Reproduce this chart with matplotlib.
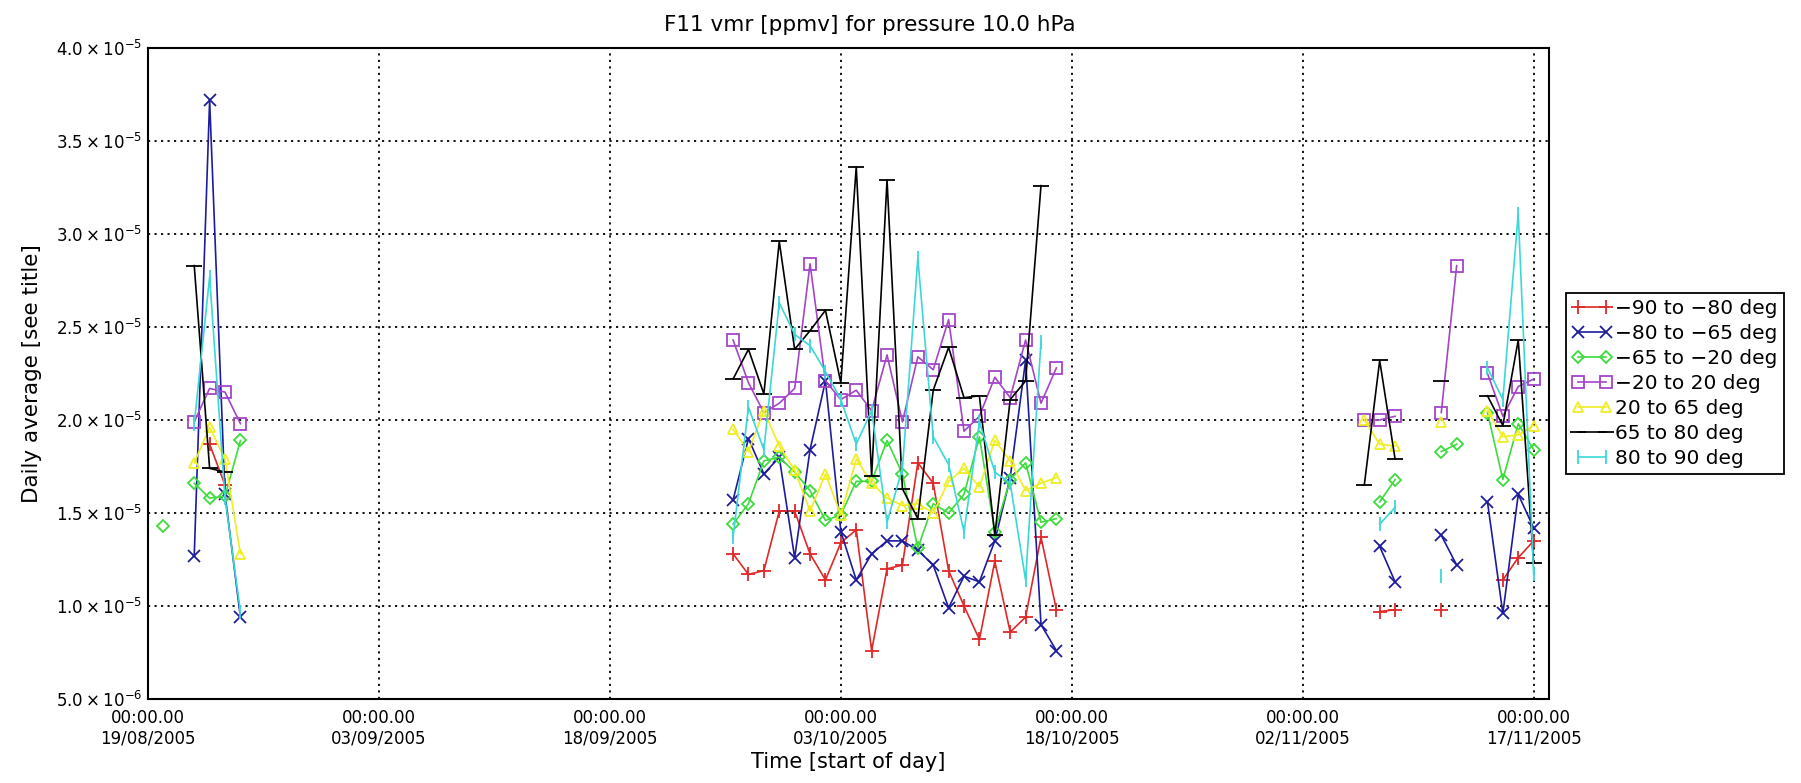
import numpy as np
import matplotlib
matplotlib.use("Agg")
import matplotlib.pyplot as plt
from datetime import datetime, timedelta

# ----------- DATA (daily averages, units of 1e-5) ----------- #
N = None
base = datetime(2005, 8, 19)
days = [1, 2, 3, 4, 5, 6, 7,
        38, 39, 40, 41, 42, 43, 44, 45, 46, 47, 48, 49, 50, 51, 52, 53, 54, 55, 56, 57, 58, 59, 60,
        79, 80, 81, 82, 84, 85, 86, 87, 88, 89, 90]

red = [N, N, N, 1.87, 1.65, N, N,
       1.28, 1.17, 1.19, 1.51, 1.51, 1.28, 1.14, 1.34, 1.41, 0.76, 1.20, 1.22, 1.77, 1.66, 1.19,
       1.00, 0.82, 1.24, 0.86, 0.94, 1.37, 0.98, N,
       N, 0.97, 0.98, N, 0.98, N, N, N, 1.14, 1.26, 1.35]
blue = [N, N, 1.27, 3.72, 1.60, 0.94, N,
        1.57, 1.90, 1.71, 1.80, 1.26, 1.84, 2.21, 1.40, 1.14, 1.28, 1.35, 1.35, 1.30, 1.22, 0.99,
        1.16, 1.13, 1.35, 1.69, 2.32, 0.90, 0.76, N,
        N, 1.32, 1.13, N, 1.38, 1.22, N, 1.56, 0.96, 1.60, 1.42]
green = [1.43, N, 1.66, 1.58, 1.59, 1.89, N,
         1.44, 1.55, 1.78, 1.80, 1.72, 1.62, 1.46, 1.49, 1.67, 1.67, 1.89, 1.71, 1.31, 1.55, 1.50,
         1.60, 1.91, 1.40, 1.68, 1.77, 1.45, 1.47, N,
         N, 1.56, 1.68, N, 1.83, 1.87, N, 2.04, 1.68, 1.98, 1.84]
purple = [N, N, 1.99, 2.17, 2.15, 1.98, N,
          2.43, 2.20, 2.04, 2.09, 2.17, 2.84, 2.21, 2.11, 2.16, 2.05, 2.35, 1.99, 2.34, 2.27, 2.54,
          1.94, 2.02, 2.23, 2.12, 2.43, 2.09, 2.28, N,
          2.00, 2.00, 2.02, N, 2.04, 2.83, N, 2.25, 2.02, 2.18, 2.22]
yellow = [N, N, 1.77, 1.96, 1.79, 1.28, N,
          1.95, 1.83, 2.05, 1.86, 1.73, 1.51, 1.71, 1.49, 1.79, 1.66, 1.58, 1.54, 1.55, 1.50, 1.67,
          1.74, 1.64, 1.89, 1.78, 1.62, 1.66, 1.69, N,
          2.00, 1.87, 1.86, N, 1.99, N, N, 2.05, 1.91, 1.92, 1.97]
black = [N, N, 2.83, 1.74, 1.72, N, N,
         2.22, 2.38, 2.14, 2.96, 2.38, 2.48, 2.59, 2.20, 3.36, 1.70, 3.29, 1.63, 1.47, 2.16, 2.39,
         2.12, 2.13, 1.38, 2.11, 2.21, 3.26, N, N,
         1.65, 2.32, 1.79, N, 2.21, N, N, 2.13, 1.97, 2.43, 1.23]
cyan = [N, N, 1.98, 2.77, 1.58, 0.97, N,
        1.37, 2.07, 1.84, 2.63, 2.46, 2.40, 2.26, 2.11, 1.87, 2.05, 1.45, 1.74, 2.87, 1.91, 1.76,
        1.40, 1.99, 1.72, 1.66, 1.14, 2.42, N, N,
        N, 1.44, 1.53, N, 1.16, N, N, 2.28, 2.11, 3.11, 1.17]

labels = ['\u221290 to \u221280 deg', '\u221280 to \u221265 deg', '\u221265 to \u221220 deg',
          '\u221220 to 20 deg', '20 to 65 deg', '65 to 80 deg', '80 to 90 deg']
tick_days = [0, 15, 30, 45, 60, 75, 90]
ytick_vals = [0.5, 1.0, 1.5, 2.0, 2.5, 3.0, 3.5, 4.0]
ytick_labels = [r'$5.0\times10^{-6}$', r'$1.0\times10^{-5}$', r'$1.5\times10^{-5}$',
                r'$2.0\times10^{-5}$', r'$2.5\times10^{-5}$', r'$3.0\times10^{-5}$',
                r'$3.5\times10^{-5}$', r'$4.0\times10^{-5}$']

# ----------- PLOT ----------- #
x = [base + timedelta(days=d) for d in days]
series = [red, blue, green, purple, yellow, black, cyan]
colors = ['#e02828', '#1c1c9c', '#3cdc3c', '#a445c8', '#eeee22', 'black', '#3cd8d8']
markers = ['+', 'x', 'D', 's', '^', '_', '|']
msizes = [10, 9, 6, 8, 7, 11, 10]

fig = plt.figure(figsize=(18.01, 7.83), dpi=100)
ax = fig.add_axes([0.0822, 0.1073, 0.7779, 0.8314])

for vals, c, m, ms, lab in zip(series, colors, markers, msizes, labels):
    y = np.array(vals, dtype=float) * 1e-5
    ax.plot(x, y, color=c, marker=m, markersize=ms, markerfacecolor='none',
            markeredgecolor=c, markeredgewidth=1.3, linewidth=1.2, label=lab)

ax.set_xlim(base, base + timedelta(days=91))
ax.set_ylim(0.5e-5, 4.0e-5)
ax.set_xticks([base + timedelta(days=d) for d in tick_days])
ax.set_xticklabels(['00:00.00\n' + (base + timedelta(days=d)).strftime('%d/%m/%Y') for d in tick_days])
ax.set_yticks([v * 1e-5 for v in ytick_vals])
ax.set_yticklabels(ytick_labels)
ax.tick_params(length=0, labelsize=12)
ax.tick_params(axis='x', pad=7)
ax.tick_params(axis='y', pad=4)
ax.grid(True, color='black', linestyle=(0, (1.2, 2.4)), linewidth=1.3)
for s in ax.spines.values():
    s.set_linewidth(1.5)

ax.set_title('F11 vmr [ppmv] for pressure 10.0 hPa', fontsize=15.5, pad=12, x=0.515)
ax.set_xlabel('Time [start of day]', fontsize=15, labelpad=3)
ax.set_ylabel('Daily average [see title]', fontsize=15.5, labelpad=10)

leg = ax.legend(loc='upper left', bbox_to_anchor=(1566 / 1801, 1 - 293 / 783),
                bbox_transform=fig.transFigure, borderaxespad=0, numpoints=2,
                handlelength=2.0, handletextpad=0.15, borderpad=0.3, labelspacing=0.3,
                fontsize=14.5, fancybox=False, framealpha=1, edgecolor='black')
leg.get_frame().set_linewidth(1.3)

fig.savefig('out.png', dpi=100)
